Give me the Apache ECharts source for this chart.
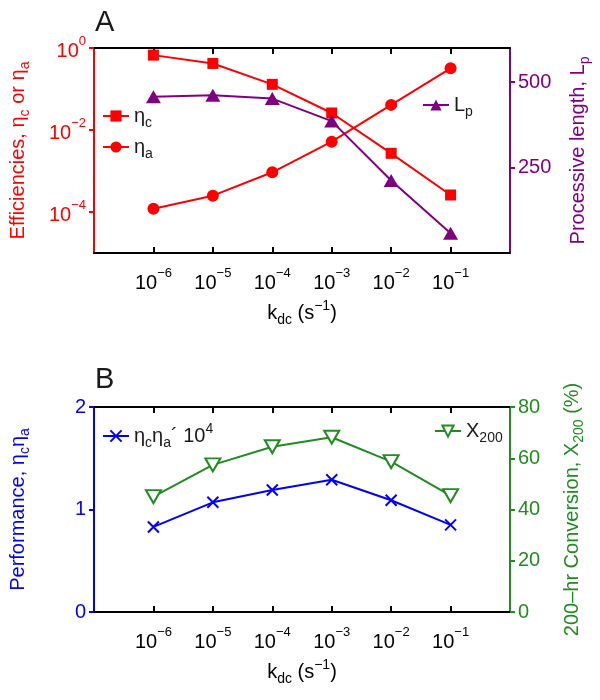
<!DOCTYPE html>
<html><head><meta charset="utf-8">
<script src="https://cdn.jsdelivr.net/npm/echarts@6/dist/echarts.min.js"></script>
<style>html,body{margin:0;padding:0;background:#fff}#c{width:600px;height:700px}</style>
</head><body><div id="c"></div>
<script>
// ---- data ----
const kdc = [1e-6, 1e-5, 1e-4, 1e-3, 1e-2, 1e-1];
const etaC = [0.67, 0.42, 0.13, 0.026, 0.0027, 0.00026];
const etaA = [0.00012, 0.00025, 0.00093, 0.0052, 0.041, 0.32];
const procLength = [457, 462, 452, 386, 212, 58];
const performance = [0.83, 1.07, 1.19, 1.29, 1.09, 0.85];
const conversion200 = [45.0, 57.4, 64.5, 68.2, 58.7, 45.4];
const xTicks = [1e-6, 1e-5, 1e-4, 1e-3, 1e-2, 1e-1];
const effTicks = [1, 1e-2, 1e-4];
const lenTicks = [250, 500];
const perfTicks = [0, 1, 2];
const convTicks = [0, 20, 40, 60, 80];

const RED = '#ff0000', PURPLE = '#800080', BLUE = '#0000ff', GREEN = '#218c21', BLACK = '#000000', TXT = '#1a1a1a';
const FONT = '"Liberation Sans", Arial, Helvetica, sans-serif';

function pairs(xs, ys) { return xs.map((x, i) => [x, ys[i]]); }
function supRich(color) {
  return {
    b: { fontSize: 20, lineHeight: 26, verticalAlign: 'bottom', color: color, fontFamily: FONT },
    s: { fontSize: 13, lineHeight: 13, verticalAlign: 'top', color: color, fontFamily: FONT }
  };
}
function nameRich(color) {
  return {
    t: { fontSize: 20, lineHeight: 28, verticalAlign: 'middle', color: color, fontFamily: FONT },
    sub: { fontSize: 14, lineHeight: 12, verticalAlign: 'bottom', color: color, fontFamily: FONT },
    sup: { fontSize: 14, lineHeight: 12, verticalAlign: 'top', color: color, fontFamily: FONT }
  };
}
function powLabel(v) {
  const e = Math.round(Math.log10(v));
  return '{b|10}{s|' + (e < 0 ? '\u2212' + (-e) : e) + '}';
}
const kName = '{t|k}{sub|dc}{t| (s}{sup|\u22121}{t|)}';

function xAxisPair(grid) {
  const common = {
    type: 'log', logBase: 10, gridIndex: grid, min: 1e-7, max: 1,
    axisLine: { show: true, onZero: false, lineStyle: { color: BLACK, width: 2 } },
    axisTick: { show: true, inside: true, length: 6, lineStyle: { color: BLACK, width: 2 }, customValues: xTicks },
    splitLine: { show: false }, minorTick: { show: false }
  };
  return [
    Object.assign({}, common, {
      position: 'bottom',
      axisLabel: { show: true, margin: 14, customValues: xTicks, formatter: powLabel, rich: supRich(BLACK) },
      name: kName, nameLocation: 'middle', nameGap: 46,
      nameTextStyle: { rich: nameRich(BLACK) }
    }),
    Object.assign({}, common, { position: 'top', axisLabel: { show: false } })
  ];
}

function valAxis(grid, pos, color, min, max, ticks, name, gap) {
  return {
    type: 'value', gridIndex: grid, position: pos, min: min, max: max,
    axisLine: { show: true, onZero: false, lineStyle: { color: color, width: 2 } },
    axisTick: { show: true, inside: false, length: 5, lineStyle: { color: color, width: 2 }, customValues: ticks },
    axisLabel: { show: true, margin: 8, customValues: ticks, color: color, fontSize: 20, fontFamily: FONT },
    splitLine: { show: false },
    name: name, nameLocation: 'middle', nameGap: gap, nameTextStyle: { rich: nameRich(color) }
  };
}

const legendNames = {
  'ηc': '{t|η}{sub|c}',
  'ηa': '{t|η}{sub|a}',
  'Lp': '{t|L}{sub|p}',
  'ηcηa´ 10⁴': '{t|η}{sub|c}{t|η}{sub|a}{t|´ 10}{sup|4}',
  'X200': '{t|X}{sub|200}'
};
function legend(name, left, top) {
  return {
    data: [name], left: left, top: top, orient: 'vertical', padding: 0,
    itemWidth: 26, itemHeight: 14, selectedMode: false,
    formatter: n => legendNames[n],
    textStyle: { rich: nameRich(TXT) }
  };
}

const option = {
  animation: false,
  backgroundColor: '#ffffff',
  title: [
    { text: 'A', left: 90, top: 3, textStyle: { fontSize: 29, fontWeight: 'normal', color: TXT, fontFamily: FONT } },
    { text: 'B', left: 90, top: 360, textStyle: { fontSize: 29, fontWeight: 'normal', color: TXT, fontFamily: FONT } }
  ],
  grid: [
    { left: 91, right: 90, top: 48, height: 205, containLabel: false },
    { left: 91, right: 90, top: 407, height: 205, containLabel: false }
  ],
  legend: [
    legend('ηc', 102, 106),
    legend('ηa', 102, 137),
    legend('Lp', 422, 95),
    legend('ηcηa´ 10⁴', 102, 422),
    legend('X200', 434, 421)
  ],
  xAxis: xAxisPair(0).concat(xAxisPair(1)),
  yAxis: [
    {
      type: 'log', logBase: 10, gridIndex: 0, position: 'left', min: 1e-5, max: 1,
      axisLine: { show: true, onZero: false, lineStyle: { color: RED, width: 2 } },
      axisTick: { show: true, inside: false, length: 5, lineStyle: { color: RED, width: 2 }, customValues: effTicks },
      axisLabel: { show: true, margin: 8, customValues: effTicks, formatter: powLabel, rich: supRich(RED) },
      splitLine: { show: false }, minorTick: { show: false },
      name: '{t|Efficiencies, η}{sub|c}{t| or η}{sub|a}', nameLocation: 'middle', nameGap: 62,
      nameTextStyle: { rich: nameRich(RED) }
    },
    valAxis(0, 'right', PURPLE, 0, 600, lenTicks, '{t|Processive length, L}{sub|p}', 54),
    valAxis(1, 'left', BLUE, 0, 2, perfTicks, '{t|Performance, η}{sub|c}{t|η}{sub|a}', 62),
    valAxis(1, 'right', GREEN, 0, 80, convTicks, '{t|200\u2013hr Conversion, X}{sub|200}{t| (%)}', 48)
  ],
  series: [
    {
      name: 'ηc', type: 'line', xAxisIndex: 0, yAxisIndex: 0, data: pairs(kdc, etaC),
      symbol: 'rect', symbolSize: 11, lineStyle: { color: RED, width: 2 }, itemStyle: { color: RED }
    },
    {
      name: 'ηa', type: 'line', xAxisIndex: 0, yAxisIndex: 0, data: pairs(kdc, etaA),
      symbol: 'circle', symbolSize: 12, lineStyle: { color: RED, width: 2 }, itemStyle: { color: RED }
    },
    {
      name: 'Lp', type: 'line', xAxisIndex: 0, yAxisIndex: 1, data: pairs(kdc, procLength),
      symbol: 'triangle', symbolSize: [15, 13], lineStyle: { color: PURPLE, width: 2 }, itemStyle: { color: PURPLE }
    },
    {
      name: 'ηcηa´ 10⁴', type: 'line', xAxisIndex: 2, yAxisIndex: 2, data: pairs(kdc, performance),
      symbol: 'path://M0,0L10,10M0,10L10,0', symbolSize: 11,
      lineStyle: { color: BLUE, width: 2 }, itemStyle: { color: BLUE, borderColor: BLUE, borderWidth: 2 }
    },
    {
      name: 'X200', type: 'line', xAxisIndex: 2, yAxisIndex: 3, data: pairs(kdc, conversion200),
      symbol: 'path://M0,0L10,0L5,8.7Z', symbolSize: [15, 13],
      lineStyle: { color: GREEN, width: 2 }, itemStyle: { color: '#ffffff', borderColor: GREEN, borderWidth: 2 }
    }
  ]
};
const chart = echarts.init(document.getElementById('c'), null, { renderer: 'canvas' });
chart.setOption(option);
</script>
</body></html>
